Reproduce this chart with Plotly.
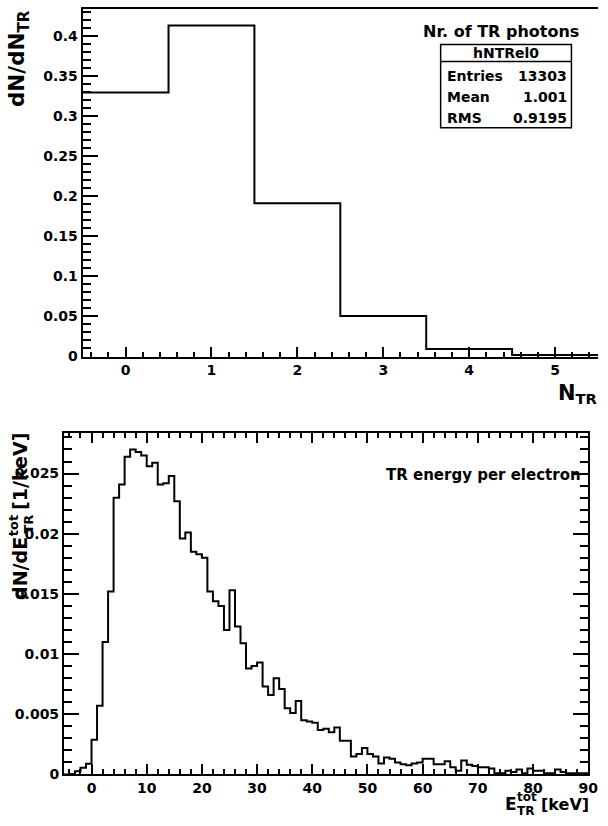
import plotly.graph_objects as go

W, H = 608, 826

# ---------------- data ----------------
ntr_bins = [0, 1, 2, 3, 4, 5]
ntr_values = [0.329, 0.4127, 0.191, 0.0506, 0.0095, 0.002]

e_bin_low = list(range(-5, 90))  # 1 keV bins, lower edges
e_values = [
    0.0, 0.00003, 0.00027, 0.00055, 0.00088,          # -5 .. -1
    0.00288, 0.00571, 0.0110, 0.0152, 0.0230,         # 0 .. 4
    0.0241, 0.0264, 0.0270, 0.0268, 0.0265,           # 5 .. 9
    0.0256, 0.0259, 0.0241, 0.0242, 0.0248,           # 10 .. 14
    0.0227, 0.0196, 0.0201, 0.0185, 0.0183,           # 15 .. 19
    0.0180, 0.0152, 0.0144, 0.0140, 0.0120,           # 20 .. 24
    0.0153, 0.0123, 0.0109, 0.0088, 0.0090,           # 25 .. 29
    0.0093, 0.0073, 0.0066, 0.0080, 0.0071,           # 30 .. 34
    0.0055, 0.0051, 0.0061, 0.0045, 0.0044,           # 35 .. 39
    0.0043, 0.0037, 0.0038, 0.0035, 0.0039,           # 40 .. 44
    0.0028, 0.0028, 0.0015, 0.0017, 0.0022,           # 45 .. 49
    0.0017, 0.0015, 0.0009, 0.0014, 0.0013,           # 50 .. 54
    0.0010, 0.00085, 0.00077, 0.0009, 0.0010,         # 55 .. 59
    0.0013, 0.0013, 0.00085, 0.00085, 0.0011,         # 60 .. 64
    0.0006, 0.0003, 0.00115, 0.0008, 0.0007,          # 65 .. 69
    0.0006, 0.0006, 0.0005, 0.0001, 0.0001,           # 70 .. 74
    0.0003, 0.0002, 0.0004, 0.0001, 0.0005,           # 75 .. 79
    0.0003, 0.0003, 0.0001, 0.0001, 0.0004,           # 80 .. 84
    0.0002, 0.0001, 0.0001, 0.0001, 0.0001,           # 85 .. 89
]

stats_name = "hNTRel0"
stats_labels = ["Entries", "Mean", "RMS"]
stats_values = ["13303", "1.001", "0.9195"]

FONT = "DejaVu Sans"


def px(x):
    return x / W


def py(y):
    return 1 - y / H


fig = go.Figure()

# top histogram
ntr_edges = [b - 0.5 for b in ntr_bins] + [ntr_bins[-1] + 0.5]
fig.add_trace(go.Scatter(
    x=ntr_edges, y=ntr_values + [ntr_values[-1]], mode="lines",
    line=dict(shape="hv", color="black", width=2),
    xaxis="x", yaxis="y", showlegend=False, hoverinfo="skip"))

# bottom histogram
e_edges = e_bin_low + [e_bin_low[-1] + 1]
fig.add_trace(go.Scatter(
    x=e_edges, y=e_values + [e_values[-1]], mode="lines",
    line=dict(shape="hv", color="black", width=2),
    xaxis="x2", yaxis="y2", showlegend=False, hoverinfo="skip"))

tickfont = dict(family=FONT, size=14, color="black", weight="bold")
common = dict(showgrid=False, zeroline=False, showline=True, linecolor="black",
              linewidth=2, ticks="inside", tickcolor="black", tickwidth=1.5,
              tickfont=tickfont)

fig.update_layout(
    width=W, height=H,
    margin=dict(l=0, r=0, t=0, b=0),
    paper_bgcolor="white", plot_bgcolor="white",
    font=dict(family=FONT, color="black"),
    xaxis=dict(domain=[px(84), 1.0], range=[-0.5, 5.5], anchor="y",
               tick0=0, dtick=1, ticklen=10, mirror=True,
               minor=dict(dtick=0.2, ticklen=5, ticks="inside", tickcolor="black", tickwidth=1.5),
               **common),
    yaxis=dict(domain=[py(360), py(9)], range=[0, 0.4333], anchor="x",
               tick0=0, dtick=0.05, ticklen=15, mirror=False,
               minor=dict(dtick=0.01, ticklen=8, ticks="inside", tickcolor="black", tickwidth=1.5),
               **common),
    xaxis2=dict(domain=[px(65), px(598)], range=[-5, 90], anchor="y2",
                tick0=0, dtick=10, ticklen=10, mirror="ticks",
                minor=dict(dtick=2, ticklen=5, ticks="inside", tickcolor="black", tickwidth=1.5),
                **common),
    yaxis2=dict(domain=[py(782), py(437)], range=[0, 0.02839], anchor="x2",
                tick0=0, dtick=0.005, ticklen=15, mirror="ticks",
                minor=dict(dtick=0.001, ticklen=8, ticks="inside", tickcolor="black", tickwidth=1.5),
                **common),
)

ann = []


def text(x, y, s, size, xanchor="center", yanchor="middle", angle=0):
    ann.append(dict(x=px(x), y=py(y), xref="paper", yref="paper", text=s,
                    showarrow=False, xanchor=xanchor, yanchor=yanchor,
                    textangle=angle, borderpad=0, borderwidth=0,
                    font=dict(family=FONT, size=size, color="black", weight="bold")))


# top plot title and stats box
text(509, 32, "Nr. of TR photons", 16)
fig.add_shape(type="rect", xref="paper", yref="paper",
              x0=px(448), x1=px(581), y0=py(45), y1=py(129),
              line=dict(color="black", width=1.5), fillcolor="white")
fig.add_shape(type="line", xref="paper", yref="paper",
              x0=px(448), x1=px(581), y0=py(62), y1=py(62),
              line=dict(color="black", width=1.5))
text(514.5, 54, stats_name, 14)
for i, (lab, val) in enumerate(zip(stats_labels, stats_values)):
    yy = 77 + i * 21
    text(454, yy, lab, 14, xanchor="left")
    text(576, yy, val, 14, xanchor="right")

# top axis titles
text(19, 10, "dN/dN<sub>TR</sub>", 21.5, yanchor="top", angle=-90)
text(608, 385, "N<sub>TR</sub>", 21, xanchor="right", yanchor="top")

# bottom plot label
text(591, 480, "TR energy per electron", 15, xanchor="right")

# bottom y title (stacked super/subscript)
f = 19
text(21, 437, "[1/keV]", f, yanchor="top", angle=-90)
text(14, 520, "tot", 13, yanchor="top", angle=-90)
text(28.5, 520, "TR", 13, yanchor="top", angle=-90)
text(21, 542, "dN/dE", f, yanchor="top", angle=-90)

# bottom x title (stacked super/subscript)
text(599, 812, "[keV]", 16, xanchor="right")
text(526, 805, "tot", 12, xanchor="left")
text(526, 819, "TR", 12, xanchor="left")
text(526, 812, "E", 17, xanchor="right")

fig.update_layout(annotations=ann)

fig.write_html(
    "out.html",
    config={"displayModeBar": False},
    post_script="document.body.style.margin='0';document.body.style.overflow='hidden';",
)
